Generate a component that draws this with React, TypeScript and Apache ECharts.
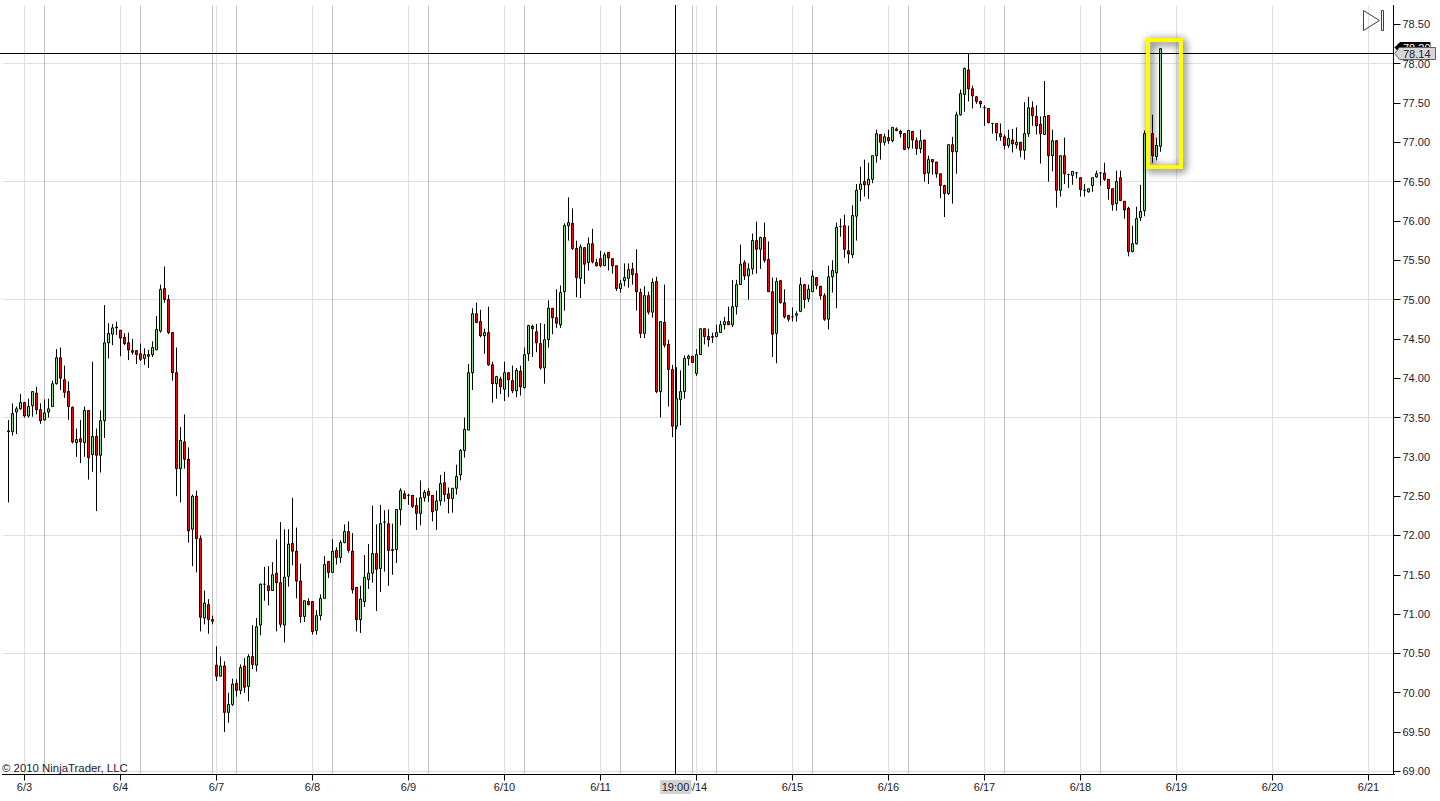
import React, { useEffect, useRef } from "react";
import * as echarts from "echarts";

const dateLabels = ["6/3","6/4","6/7","6/8","6/9","6/10","6/11","6/14","6/15","6/16","6/17","6/18","6/19","6/20","6/21"];
const yTickValues = [69,69.5,70,70.5,71,71.5,72,72.5,73,73.5,74,74.5,75,75.5,76,76.5,77,77.5,78,78.5];
const yGridValues = [69,70.5,72,73.5,75,76.5,78];
const sessionSlots = [10,34,52,58,82,106,130,154,172,178,202,226,250,274];

const opens = [
73.32,73.32,73.57,73.61,73.69,73.52,73.65,73.81,73.60,73.47,
73.57,73.64,73.93,74.26,73.98,73.83,73.63,73.18,73.23,73.18,
73.59,73.03,73.26,73.02,73.46,74.45,74.56,74.64,74.61,74.52,
74.45,74.35,74.35,74.31,74.25,74.30,74.30,74.36,74.60,75.14,
75.00,74.58,74.07,72.85,73.19,72.97,72.08,72.50,71.96,70.95,
71.12,70.93,70.35,70.21,70.34,69.75,69.85,70.12,70.03,70.34,
70.08,70.46,70.35,70.86,71.38,71.36,71.30,71.52,71.40,70.86,
71.48,71.90,71.80,71.42,70.97,71.16,71.16,70.79,70.98,71.20,
71.67,71.53,71.81,71.72,71.91,72.05,71.80,71.34,70.93,71.16,
71.44,71.52,71.77,71.58,72.17,72.15,71.82,71.82,72.33,72.53,
72.51,72.51,72.38,72.28,72.48,72.56,72.51,72.32,72.44,72.67,
72.53,72.47,72.60,72.77,73.08,73.34,74.07,74.82,74.72,74.54,
74.58,74.17,73.93,73.99,73.86,74.07,73.97,73.84,74.09,73.88,
74.31,74.66,74.59,74.44,74.13,74.49,74.89,74.77,74.68,75.10,
75.94,75.97,75.65,75.27,75.66,75.47,75.71,75.47,75.52,75.43,
75.60,75.52,75.43,75.14,75.24,75.27,75.39,75.33,75.09,74.57,
75.05,74.84,75.23,73.83,74.71,74.43,74.11,73.39,73.73,73.83,
74.25,74.28,74.06,74.30,74.63,74.53,74.53,74.53,74.58,74.68,
74.72,74.68,74.91,75.19,75.47,75.30,75.39,75.75,75.64,75.79,
75.51,75.10,74.57,75.24,74.96,74.80,74.78,74.80,74.85,75.19,
75.01,75.10,75.28,75.17,75.05,74.75,75.29,75.34,75.93,75.94,
75.62,75.57,76.06,76.40,76.50,76.46,76.53,76.83,77.10,77.00,
77.06,77.02,77.17,77.14,77.11,76.93,77.14,77.02,76.92,77.03,
76.61,76.78,76.75,76.60,76.45,76.35,76.97,76.88,77.35,77.61,
77.92,77.68,77.58,77.52,77.44,77.43,77.24,77.24,77.11,77.07,
76.96,77.03,76.97,77.00,76.90,77.11,77.44,77.33,77.23,77.10,
77.34,76.83,77.02,76.39,76.83,76.59,76.58,76.61,76.55,76.39,
76.37,76.45,76.56,76.61,76.61,76.53,76.41,76.22,76.55,76.25,
76.16,75.61,75.71,76.04,76.13,77.11,77.11,76.82,76.95,
];

const closes = [
73.33,73.55,73.61,73.69,73.52,73.64,73.83,73.60,73.46,73.56,
73.61,73.93,74.26,74.00,73.82,73.64,73.19,73.22,73.19,73.59,
72.99,73.26,73.02,73.46,74.45,74.57,74.64,74.65,74.51,74.44,
74.36,74.33,74.30,74.24,74.30,74.28,74.39,74.62,75.13,75.00,
74.58,74.07,72.85,73.21,72.97,72.06,72.50,71.96,70.96,71.14,
70.93,70.91,70.21,70.34,69.75,69.85,70.11,70.03,70.32,70.07,
70.46,70.36,70.84,71.38,71.38,71.30,71.50,71.40,70.87,71.47,
71.89,71.80,71.42,70.97,71.17,71.12,70.78,70.98,71.20,71.63,
71.53,71.80,71.72,71.91,72.05,71.81,71.31,70.93,71.19,71.47,
71.52,71.77,71.57,72.15,72.17,71.81,71.81,72.33,72.57,72.47,
72.51,72.37,72.28,72.48,72.55,72.51,72.30,72.44,72.66,72.52,
72.47,72.60,72.75,73.08,73.35,74.07,74.82,74.71,74.54,74.58,
74.17,73.93,74.02,73.89,74.07,73.98,73.84,74.10,73.89,74.30,
74.67,74.63,74.45,74.13,74.49,74.89,74.77,74.70,75.09,75.94,
75.98,75.65,75.28,75.67,75.45,75.71,75.48,75.43,75.43,75.57,
75.53,75.43,75.14,75.20,75.28,75.38,75.32,75.10,74.57,75.05,
74.84,75.22,73.83,74.72,74.42,74.11,73.39,73.74,73.83,74.25,
74.28,74.20,74.30,74.63,74.53,74.49,74.52,74.58,74.68,74.72,
74.68,74.91,75.19,75.45,75.30,75.39,75.75,75.64,75.79,75.50,
75.10,74.56,75.23,74.96,74.78,74.75,74.78,74.82,75.19,75.00,
75.13,75.30,75.18,75.05,74.75,75.29,75.37,75.92,75.93,75.64,
75.58,76.07,76.39,76.47,76.46,76.53,76.83,77.11,77.00,77.07,
77.02,77.19,77.15,77.11,76.91,77.15,77.03,76.92,77.02,76.60,
76.78,76.75,76.60,76.45,76.35,76.97,76.88,77.35,77.62,77.94,
77.68,77.59,77.52,77.49,77.44,77.25,77.24,77.12,77.07,76.96,
77.05,76.98,77.00,76.90,77.11,77.44,77.34,77.21,77.11,77.33,
76.83,77.02,76.39,76.83,76.60,76.59,76.63,76.61,76.40,76.39,
76.41,76.55,76.60,76.61,76.53,76.41,76.21,76.50,76.26,76.14,
75.61,75.71,76.03,76.12,77.11,77.05,76.83,76.96,78.19,
];

const lows = [
72.42,73.27,73.29,73.60,73.50,73.50,73.51,73.54,73.42,73.46,
73.50,73.64,73.92,73.85,73.75,73.47,73.17,73.00,72.92,73.00,
72.71,72.81,72.31,72.80,73.24,74.25,74.42,74.55,74.28,74.42,
74.23,74.30,74.18,74.22,74.17,74.13,74.27,74.36,74.58,74.96,
74.56,73.97,72.50,72.42,72.85,71.91,71.61,71.53,70.78,70.87,
70.75,70.87,70.15,70.21,69.50,69.62,69.83,69.95,69.98,70.00,
69.89,70.30,70.27,70.73,71.17,71.11,71.30,70.78,70.83,70.64,
71.35,71.62,71.20,70.89,70.90,71.11,70.74,70.74,70.92,71.20,
71.46,71.53,71.63,71.65,71.90,71.78,71.26,70.78,70.76,71.09,
71.32,71.40,71.04,71.28,71.54,71.36,71.50,71.65,72.13,72.46,
72.39,72.35,72.07,72.13,72.43,72.43,72.18,72.07,72.38,72.43,
72.28,72.29,72.52,72.70,72.99,73.34,73.85,74.70,74.52,74.31,
74.16,73.69,73.74,73.80,73.71,73.76,73.81,73.76,73.78,73.87,
74.22,74.27,74.33,74.11,73.93,74.39,74.56,74.64,74.64,74.86,
75.75,75.63,75.03,75.02,75.20,75.37,75.46,75.42,75.41,75.43,
75.37,75.33,75.11,75.09,75.17,75.15,75.19,74.86,74.51,74.51,
74.81,74.77,73.81,73.50,74.39,73.64,73.25,73.35,73.40,73.74,
74.16,74.20,74.03,74.30,74.43,74.40,74.45,74.52,74.58,74.62,
74.68,74.65,74.81,75.19,75.25,75.00,75.32,75.33,75.39,75.47,
75.10,74.27,74.19,74.95,74.76,74.72,74.72,74.72,74.84,74.89,
74.97,75.10,75.13,75.00,74.73,74.62,75.09,74.89,75.80,75.53,
75.46,75.53,75.75,76.25,76.31,76.28,76.48,76.74,76.78,76.96,
76.98,77.00,77.14,77.06,76.90,76.91,76.92,76.84,76.86,76.50,
76.47,76.59,76.55,76.29,76.05,76.33,76.22,76.60,77.34,77.39,
77.52,77.43,77.49,77.44,77.21,77.24,77.11,77.02,77.02,76.91,
76.93,76.87,76.92,76.81,76.78,77.07,77.21,77.10,76.73,77.10,
76.50,76.63,76.17,76.31,76.47,76.42,76.46,76.54,76.31,76.31,
76.36,76.37,76.55,76.45,76.51,76.27,76.13,76.13,76.25,76.03,
75.55,75.60,75.70,76.00,76.06,76.98,76.74,76.77,76.88,
];

const highs = [
73.47,73.68,73.64,73.80,73.70,73.74,73.83,73.89,73.68,73.73,
73.74,73.97,74.37,74.39,74.16,73.96,73.64,73.36,73.47,73.64,
73.59,74.21,73.36,73.59,74.93,74.70,74.69,74.72,74.61,74.57,
74.58,74.50,74.36,74.44,74.38,74.36,74.47,74.79,75.19,75.42,
75.06,74.58,74.39,73.38,73.54,73.12,72.52,72.57,72.00,71.30,
71.19,70.98,70.59,70.46,70.40,70.00,70.18,70.17,70.36,70.44,
70.49,70.86,70.95,71.39,71.60,71.61,71.66,71.95,72.17,72.08,
72.08,72.48,72.10,71.64,71.17,71.20,71.16,71.05,71.25,71.74,
71.67,71.95,71.85,71.94,72.14,72.18,72.03,71.34,71.36,71.75,
71.89,72.38,72.14,72.39,72.32,72.33,72.15,72.33,72.60,72.57,
72.53,72.51,72.48,72.70,72.58,72.60,72.51,72.57,72.77,72.81,
72.61,72.60,72.90,73.10,73.50,74.18,74.89,74.96,74.87,74.63,
74.91,74.21,74.03,74.02,74.21,74.07,74.16,74.13,74.16,74.39,
74.68,74.68,74.69,74.70,74.69,74.99,74.89,75.13,75.18,75.97,
76.30,76.16,75.75,75.70,75.67,75.79,75.90,75.52,75.62,75.60,
75.60,75.52,75.43,75.25,75.46,75.46,75.47,75.64,75.14,75.17,
75.10,75.27,75.29,74.72,75.19,74.49,74.17,74.14,74.10,74.29,
74.30,74.28,74.37,74.63,74.63,74.63,74.58,74.68,74.73,74.78,
74.91,75.25,75.25,75.70,75.50,75.46,75.84,75.99,75.80,75.98,
75.74,75.28,75.28,75.25,75.13,74.80,74.90,74.85,75.28,75.19,
75.19,75.37,75.28,75.17,75.08,75.43,75.50,75.98,76.03,76.08,
75.94,76.20,76.47,76.69,76.78,76.74,76.83,77.16,77.10,77.11,
77.16,77.19,77.19,77.16,77.11,77.16,77.14,77.06,77.16,77.03,
76.83,76.78,76.75,76.60,76.46,76.97,77.07,77.39,77.67,77.95,
78.13,77.72,77.59,77.53,77.47,77.43,77.24,77.24,77.24,77.10,
77.16,77.17,77.19,77.00,77.51,77.58,77.52,77.47,77.33,77.78,
77.34,77.16,77.03,76.83,77.06,76.60,76.63,76.62,76.55,76.47,
76.41,76.55,76.64,76.62,76.74,76.53,76.41,76.64,76.64,76.25,
76.18,75.94,76.18,76.46,77.15,77.15,77.35,77.06,78.20,
];

const SLOT_COUNT = 348;
const FONT = "'Liberation Sans', Arial, sans-serif";
const TEXT = "#1c2030";

const isDateSlot = (k: number) => (k - 5) % 24 === 0 && k >= 5;
const categories = Array.from({ length: SLOT_COUNT }, (_, k) =>
  isDateSlot(k) ? dateLabels[(k - 5) / 24] : String(k)
);
const candleData: any[] = [["-", "-", "-", "-"]].concat(
  opens.map((o, i) => [o, closes[i], lows[i], highs[i]]) as any
);

export default function App() {
  const ref = useRef<HTMLDivElement>(null);
  useEffect(() => {
    document.body.style.margin = "0";
    document.body.style.background = "#fff";
    const chart = echarts.init(ref.current!, null, { renderer: "svg" });
    const grid = { left: 2.5, top: 5.5, width: 1392, height: 769 };
    chart.setOption({
      animation: false,
      backgroundColor: "#ffffff",
      textStyle: { fontFamily: FONT },
      grid,
      xAxis: [
        {
          type: "category",
          data: categories,
          boundaryGap: true,
          axisLine: { show: true, lineStyle: { color: "#000", width: 1 } },
          axisTick: { show: true, length: 6, interval: (k: number) => isDateSlot(k), alignWithLabel: true, lineStyle: { color: "#000" } },
          axisLabel: { show: true, interval: (k: number) => isDateSlot(k), color: TEXT, fontSize: 11, fontFamily: FONT, margin: 7 },
          splitLine: { show: true, interval: (k: number) => isDateSlot(k), alignWithLabel: true, lineStyle: { color: "#e0e0e0", width: 1 } },
        },
        {
          type: "category",
          data: categories,
          boundaryGap: true,
          position: "bottom",
          axisLine: { show: false },
          axisTick: { show: false, alignWithLabel: true },
          axisLabel: { show: false },
          splitLine: { show: true, interval: (k: number) => sessionSlots.includes(k), alignWithLabel: true, lineStyle: { color: "#c0c0c0", width: 1 } },
        },
      ],
      yAxis: [
        {
          type: "value",
          position: "right",
          offset: -1,
          min: 68.96,
          max: 78.74,
          axisLine: { show: true, lineStyle: { color: "#000", width: 1 } },
          axisTick: { show: true, length: 7, customValues: yTickValues, lineStyle: { color: "#000" } },
          axisLabel: { show: true, customValues: yTickValues, color: TEXT, fontSize: 11, fontFamily: FONT, margin: 9, formatter: (v: number) => v.toFixed(2) },
          splitLine: { show: false },
        },
        {
          type: "value",
          position: "right",
          min: 68.96,
          max: 78.74,
          axisLine: { show: false },
          axisTick: { show: false, customValues: yGridValues },
          axisLabel: { show: false, customValues: yGridValues },
          splitLine: { show: true, lineStyle: { color: "#e0e0e0", width: 1 } },
        },
      ],
      series: [
        {
          type: "candlestick",
          xAxisIndex: 0,
          yAxisIndex: 0,
          barWidth: 2,
          data: candleData,
          itemStyle: {
            color: "#7fe57f",
            color0: "#ff0000",
            borderColor: "#000000",
            borderColor0: "#000000",
            borderColorDoji: "#000000",
            borderWidth: 1,
          },
        },
      ],
      graphic: [
        { type: "line", z: 50, silent: true, shape: { x1: 675.5, y1: 5, x2: 675.5, y2: 775 }, style: { stroke: "#000", lineWidth: 1 } },
        { type: "line", z: 50, silent: true, shape: { x1: 0, y1: 53.5, x2: 1394, y2: 53.5 }, style: { stroke: "#000", lineWidth: 1 } },
        {
          type: "rect", z: 60, silent: true,
          shape: { x: 1148, y: 40, width: 33, height: 127 },
          style: { fill: "none", stroke: "#ffff00", lineWidth: 4, shadowBlur: 9, shadowColor: "rgba(0,0,0,0.8)", shadowOffsetX: 2, shadowOffsetY: 2 },
        },
        { type: "polygon", z: 60, silent: true, shape: { points: [[1363.5, 10.5], [1379.5, 20.5], [1363.5, 30.5]] }, style: { fill: "none", stroke: "#404040", lineWidth: 1 } },
        { type: "rect", z: 60, silent: true, shape: { x: 1381.5, y: 10.5, width: 2, height: 20 }, style: { fill: "none", stroke: "#404040", lineWidth: 1 } },
        { type: "polygon", z: 70, silent: true, shape: { points: [[1395, 47.5], [1400, 42.5], [1430, 42.5], [1430, 53], [1400, 53]] }, style: { fill: "#000", stroke: "#000" } },
        { type: "text", z: 71, silent: true, style: { x: 1403, y: 47.5, text: "78.20", fill: "#fff", font: `11px ${FONT}`, textVerticalAlign: "middle" } },
        { type: "polygon", z: 72, silent: true, shape: { points: [[1394.5, 53.5], [1399.5, 47.5], [1435.5, 47.5], [1435.5, 59.5], [1399.5, 59.5]] }, style: { fill: "#d6d6d6", stroke: "#606060", lineWidth: 1 } },
        { type: "text", z: 73, silent: true, style: { x: 1403, y: 54, text: "78.14", fill: TEXT, font: `11px ${FONT}`, textVerticalAlign: "middle" } },
        { type: "text", z: 73, silent: true, style: { x: 2, y: 768, text: "© 2010 NinjaTrader, LLC", fill: TEXT, font: `11.4px ${FONT}`, textVerticalAlign: "middle" } },
        { type: "rect", z: 73, silent: true, shape: { x: 660, y: 780, width: 31, height: 14 }, style: { fill: "#d3d3d3" } },
        { type: "text", z: 74, silent: true, style: { x: 675.5, y: 787, text: "19:00", fill: TEXT, font: `11px ${FONT}`, textAlign: "center", textVerticalAlign: "middle" } },
      ],
    });
    return () => chart.dispose();
  }, []);
  return <div ref={ref} style={{ position: "absolute", left: 0, top: 0, width: 1440, height: 801 }} />;
}
